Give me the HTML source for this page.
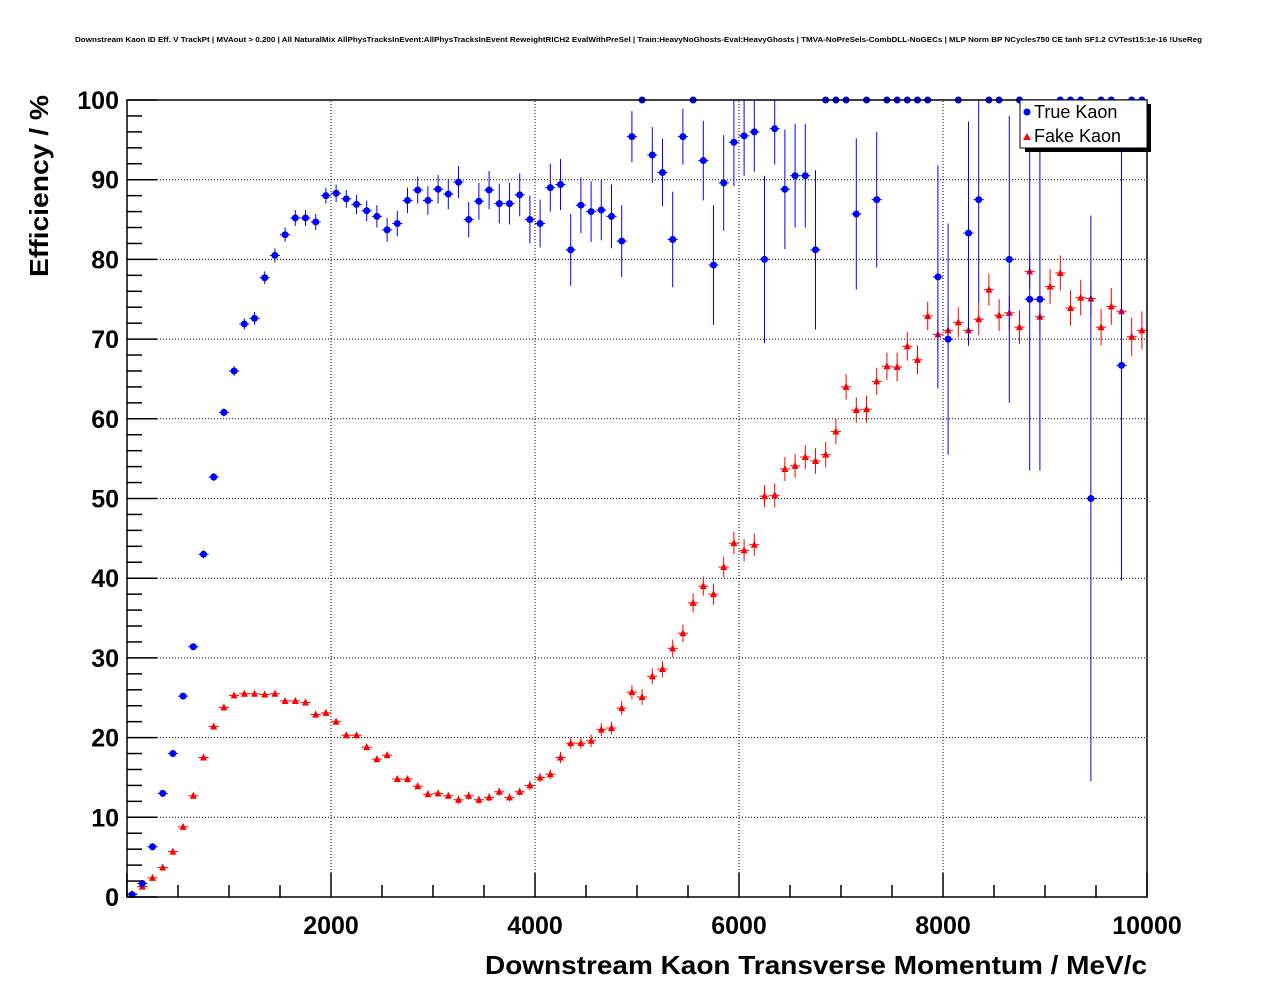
<!DOCTYPE html>
<html><head><meta charset="utf-8"><style>
body{margin:0;background:#fff;}
svg{display:block;font-family:"Liberation Sans",sans-serif;}
</style></head><body>
<svg id="chart" width="1276" height="996">
<text x="75" y="42" font-size="7" font-weight="bold" textLength="1127" lengthAdjust="spacingAndGlyphs">Downstream Kaon ID Eff. V TrackPt | MVAout &gt; 0.200 | All NaturalMix AllPhysTracksInEvent:AllPhysTracksInEvent ReweightRICH2 EvalWithPreSel | Train:HeavyNoGhosts-Eval:HeavyGhosts | TMVA-NoPreSels-CombDLL-NoGECs | MLP Norm BP NCycles750 CE tanh SF1.2 CVTest15:1e-16 !UseReg</text>
<g id="grid"></g>
<g id="series"></g>
<g id="axes"></g>
<text transform="translate(48,277) rotate(-90)" font-size="26" font-weight="bold" textLength="182" lengthAdjust="spacingAndGlyphs">Efficiency / %</text>
<text x="485" y="974" font-size="26" font-weight="bold" textLength="662" lengthAdjust="spacingAndGlyphs">Downstream Kaon Transverse Momentum / MeV/c</text>
<g>
<rect x="1025" y="104" width="126" height="48" fill="#000"/>
<rect x="1020" y="100" width="127" height="48" fill="#fff" stroke="#000" stroke-width="1"/>
<circle cx="1027" cy="112" r="3.5" fill="#00f"/>
<text x="1034" y="118" font-size="18">True Kaon</text>
<polygon points="1027,133 1023,140 1031,140" fill="#f00"/>
<text x="1034" y="142" font-size="18">Fake Kaon</text>
</g>
</svg>
<script>
const trueEff=[0.3,1.7,6.3,13,18,25.2,31.4,43,52.7,60.8,66,71.9,72.6,77.7,80.5,83.1,85.2,85.2,84.7,88,88.3,87.6,86.9,86.1,85.4,83.7,84.5,87.4,88.7,87.4,88.8,88.2,89.7,85,87.3,88.7,87,87,88.1,85,84.5,89,89.4,81.2,86.8,86,86.2,85.4,82.3,95.4,100,93.1,90.9,82.5,95.4,100,92.4,79.3,89.6,94.7,95.5,96,80,96.4,88.8,90.5,90.5,81.2,100,100,100,85.7,100,87.5,100,100,100,100,100,77.8,70,100,83.3,87.5,100,100,80,100,75,75,null,100,100,100,50,100,100,66.7,100,100];
const trueErr=[0.2,0.4,0.4,0.4,0.4,0.4,0.4,0.5,0.5,0.5,0.6,0.7,0.8,0.8,0.9,0.9,1,1,1,1,1.1,1.1,1.2,1.3,1.4,1.5,1.6,1.6,1.7,1.8,1.8,1.9,2,2.2,2.3,2.4,2.5,2.6,2.7,3,3,3,3.2,4.5,3.5,3.8,3.8,4,4.5,3.2,0,3.5,4.2,6,3.5,0,5,7.5,6,5.5,5,5,10.5,4.5,7.5,6.5,6.5,10,0,0,0,9.5,0,8.5,0,0,0,0,0,14,14.5,0,14,13,0,0,18,0,21.5,21.5,0,0,0,0,35.5,0,0,27,0,0];
const fakeEff=[0.4,1.3,2.4,3.7,5.7,8.8,12.7,17.5,21.4,23.8,25.3,25.5,25.5,25.4,25.5,24.6,24.6,24.4,22.9,23.1,22,20.3,20.3,18.8,17.3,17.8,14.8,14.8,13.9,12.9,13,12.7,12.2,12.7,12.2,12.5,13.2,12.5,13.2,14,15,15.4,17.5,19.3,19.3,19.6,21,21.2,23.7,25.7,25.1,27.7,28.6,31.2,33.1,36.9,39,38,41.4,44.4,43.5,44.2,50.3,50.4,53.7,54.1,55.2,54.7,55.5,58.4,64,61.1,61.2,64.7,66.6,66.5,69.1,67.4,72.9,70.6,71.1,72.1,71.1,72.5,76.2,73,73.3,71.5,78.5,72.8,76.6,78.3,73.9,75.2,75.1,71.5,74.1,73.5,70.3,71.1];
const fakeErr=[0.1,0.2,0.2,0.2,0.2,0.2,0.2,0.3,0.3,0.3,0.3,0.3,0.3,0.3,0.3,0.3,0.3,0.3,0.4,0.4,0.4,0.4,0.4,0.4,0.4,0.4,0.4,0.4,0.4,0.4,0.4,0.4,0.5,0.5,0.5,0.5,0.5,0.5,0.5,0.6,0.6,0.6,0.7,0.7,0.7,0.8,0.8,0.8,0.9,0.9,1,1,1,1.1,1.1,1.2,1.2,1.3,1.3,1.4,1.4,1.4,1.4,1.5,1.5,1.5,1.5,1.6,1.6,1.6,1.6,1.6,1.7,1.7,1.7,1.8,1.8,1.8,1.8,1.9,1.9,1.9,2,2,2,2,2.1,2.1,2.1,2.1,2.2,2.2,2.2,2.2,2.3,2.3,2.3,2.3,2.4,2.4];
const xTicks=[2000,4000,6000,8000,10000];
const yTicks=[0,10,20,30,40,50,60,70,80,90,100];
const binWidth=100;

const X0=127,X1=1147,Y0=897,Y1=100;
const sx=v=>X0+(v/10000)*(X1-X0);
const sy=v=>Y0-(v/100)*(Y0-Y1);
const NS='http://www.w3.org/2000/svg';
function mk(tag,attrs,parent){const e=document.createElementNS(NS,tag);for(const k in attrs)e.setAttribute(k,attrs[k]);parent.appendChild(e);return e;}
const grid=document.getElementById('grid'),axes=document.getElementById('axes'),ser=document.getElementById('series');

xTicks.forEach(t=>{const l=mk('line',{x1:sx(t),x2:sx(t),y1:Y0,y2:Y1,stroke:'#000','stroke-dasharray':'1,2','stroke-width':1},grid);
});
yTicks.forEach(t=>{const l=mk('line',{x1:X0,x2:X1,y1:sy(t),y2:sy(t),stroke:'#000','stroke-dasharray':'1,2','stroke-width':1},grid);
});

mk('rect',{x:X0,y:Y1,width:X1-X0,height:Y0-Y1,fill:'none',stroke:'#000','stroke-width':1.5},axes);
for(let v=0;v<=10000;v+=500){const maj=v%2000===0;const l=mk('line',{x1:sx(v),x2:sx(v),y1:Y0,y2:Y0-(maj?24:12),stroke:'#000','stroke-width':1.5},axes);
}
for(let v=0;v<=100;v+=2){const maj=v%10===0;const l=mk('line',{x1:X0,x2:X0+(maj?30:15),y1:sy(v),y2:sy(v),stroke:'#000','stroke-width':1.5},axes);
}
xTicks.forEach(t=>{const e=mk('text',{x:sx(t),y:934,'font-size':25,'font-weight':'bold','text-anchor':'middle'},axes);e.textContent=t;
});
yTicks.forEach(t=>{const e=mk('text',{x:119,y:sy(t)+9,'font-size':25,'font-weight':'bold','text-anchor':'end'},axes);e.textContent=t;
});

function drawSeries(vals,errs,color,shape,name){
  vals.forEach((v,i)=>{if(v===null)return;
    const c=(i+0.5)*binWidth,px=sx(c),py=sy(v);
    const g=mk('g',{},ser);
    
    
    mk('line',{x1:sx(c-binWidth/2),x2:sx(c+binWidth/2),y1:py,y2:py,stroke:color,'stroke-width':1},g);
    const e=errs[i];
    mk('line',{x1:px,x2:px,y1:Math.max(Y1,sy(v+e)),y2:sy(v-e),stroke:color,'stroke-width':1},g);
    if(shape==='circle')mk('circle',{cx:px,cy:py,r:3.5,fill:color},g);
    else mk('polygon',{points:`${px},${py-4} ${px-3.5},${py+3} ${px+3.5},${py+3}`,fill:color},g);
  });
}
drawSeries(fakeEff,fakeErr,'#f00','tri','fake-kaon');
drawSeries(trueEff,trueErr,'#00f','circle','true-kaon');
</script>
</body></html>
